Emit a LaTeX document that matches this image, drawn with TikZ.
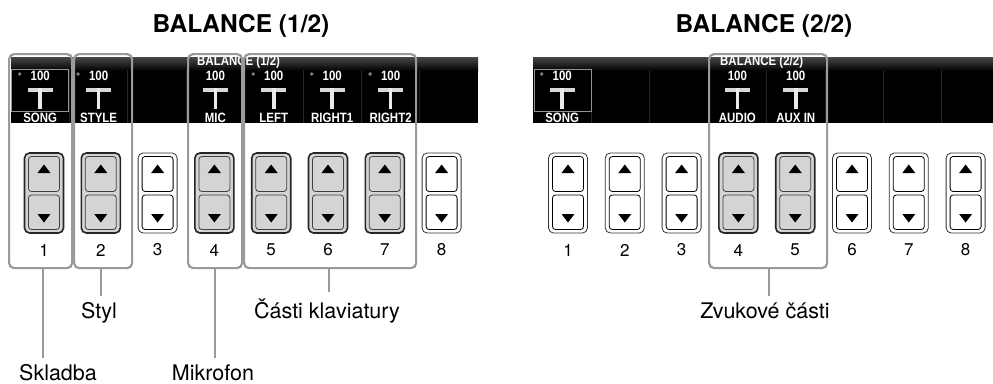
\documentclass[tikz,border=0pt]{standalone}
\usepackage{fontspec}
\setmainfont{TeX Gyre Heros}
\newfontfamily\scrfont[FakeStretch=0.85]{Liberation Sans}
\definecolor{grpc}{HTML}{9A9A9A}
\definecolor{btng}{HTML}{D4D4D4}
\definecolor{fadc}{HTML}{D8D8D8}
\definecolor{sepc}{HTML}{262626}
\newcommand\mychan[4]{%
  \fill[fadc] (#1-12.5,88) rectangle (#1+12.5,91.5);
  \fill[white!92!black] (#1-1.8,88) rectangle (#1+1.8,108.5);
  \node[scr] (v#4) at (#1,75.5) {100};
  \node[scr] (n#4) at (#1,118) {#2};
  \ifnum#3=1 \fill[gray] (#1-20.5,74) circle (1.9);\fi
}
\begin{document}
\begin{tikzpicture}[x=1pt,y=-1pt,
  grp/.style={draw=grpc,line width=2.2pt,rounded corners=5pt,inner sep=0,anchor=north west},
  leader/.style={draw=grpc,line width=1.8pt},
  lbl/.style={font=\fontsize{21.5}{24}\selectfont,inner xsep=0,inner ysep=6pt,anchor=base},
  ttl/.style={font=\bfseries\fontsize{24.5}{28}\selectfont},
  num/.style={font=\fontsize{17}{20}\selectfont},
  scr/.style={text=white,font=\scrfont\bfseries\fontsize{13.5}{15}\selectfont,inner sep=0},
  outeron/.style={fill=btng,draw=black!85,line width=1.6pt,rounded corners=5pt},
  inneron/.style={fill=btng,draw=black!75,line width=0.8pt,rounded corners=3pt},
  outeroff/.style={fill=white,draw=black!80,line width=0.8pt,rounded corners=5pt},
  inneroff/.style={fill=white,draw=black,line width=0.8pt,rounded corners=3pt},
  pics/updown/.style={code={
    \path[outer#1] (-19.5,-40) rectangle (19.5,40);
    \path[inner#1] (-15.5,-36.5) rectangle (15.5,-1.5);
    \path[inner#1] (-15.5,2) rectangle (15.5,36.5);
    \fill[black] (-6.5,-20) -- (6.5,-20) -- (0,-28.5) -- cycle;
    \fill[black] (-6.5,21) -- (6.5,21) -- (0,29.5) -- cycle;
  }},
]
\useasboundingbox (0,0) rectangle (993,383);
\fill[white] (0,0) rectangle (993,383);

% titles
\node[ttl] (t1) at (241,26) {BALANCE (1/2)};
\node[ttl] (t2) at (764,26) {BALANCE (2/2)};

% ---------- left screen ----------
\shade[top color=black!72, bottom color=black] (11,57) rectangle (478,71);
\fill[black] (11,71) rectangle (478,123);
\foreach \k in {1,...,7} \draw[sepc,line width=0.8pt] ({11+58.4*\k},70) -- ({11+58.4*\k},123);
\draw[gray!85,line width=0.9pt] (11.5,69) rectangle (68.5,111);
\mychan{40.2}{SONG}{1}{a1}
\mychan{98.6}{STYLE}{1}{a2}
\mychan{215.4}{MIC}{0}{a4}
\mychan{273.8}{LEFT}{1}{a5}
\mychan{332.2}{RIGHT1}{1}{a6}
\mychan{390.6}{RIGHT2}{1}{a7}
\node[scr,anchor=west] (bl) at (197,62.5) {BALANCE (1/2)};

% ---------- right screen ----------
\shade[top color=black!72, bottom color=black] (533,57) rectangle (993,71);
\fill[black] (533,71) rectangle (993,123);
\foreach \k in {1,...,7} \draw[sepc,line width=0.8pt] ({533+58.4*\k},70) -- ({533+58.4*\k},123);
\draw[gray!85,line width=0.9pt] (534,69) rectangle (591,111);
\mychan{562.2}{SONG}{1}{b1}
\mychan{737.4}{AUDIO}{0}{b4}
\mychan{795.8}{AUX IN}{0}{b5}
\node[scr,anchor=west] (br) at (720,62.5) {BALANCE (2/2)};

% ---------- buttons ----------
\foreach \i in {1,2,4,5,6,7} \pic at ({44+56.8*(\i-1)},193) {updown=on};
\foreach \i in {3,8} \pic at ({44+56.8*(\i-1)},193) {updown=off};
\foreach \i in {1,2,3,6,7,8} \pic at ({568+56.8*(\i-1)},193) {updown=off};
\foreach \i in {4,5} \pic at ({568+56.8*(\i-1)},193) {updown=on};

\foreach \i in {1,...,8} {
  \node[num] (na\i) at ({44+56.8*(\i-1)},250) {\i};
  \node[num] (nb\i) at ({568+56.8*(\i-1)},250) {\i};
}

% ---------- group frames ----------
\node[grp,minimum width=63,minimum height=214] (g1) at (8,53) {};
\node[grp,minimum width=58,minimum height=214] (g2) at (73,53) {};
\node[grp,minimum width=54,minimum height=214] (g4) at (187,53) {};
\node[grp,minimum width=172,minimum height=214] (g5) at (243,53) {};
\node[grp,minimum width=118,minimum height=214] (gR) at (708,53) {};

% ---------- labels and leaders ----------
\node[lbl] (l1) at (58,380) {Skladba};
\node[lbl] (l2) at (99,318) {Styl};
\node[lbl] (l4) at (213,380) {Mikrofon};
\node[lbl] (l5) at (327,318) {Části klaviatury};
\node[lbl] (lR) at (765,318) {Zvukové části};

\coordinate (c1) at (43,267);
\coordinate (c2) at (101,267);
\coordinate (c4) at (215,267);
\coordinate (c5) at (329,267);
\coordinate (cR) at (769,267);
\draw[leader] (c1) -- (c1 |- l1.north);
\draw[leader] (c2) -- (c2 |- l2.north);
\draw[leader] (c4) -- (c4 |- l4.north);
\draw[leader] (c5) -- (c5 |- l5.north);
\draw[leader] (cR) -- (cR |- lR.north);
\end{tikzpicture}
\end{document}
